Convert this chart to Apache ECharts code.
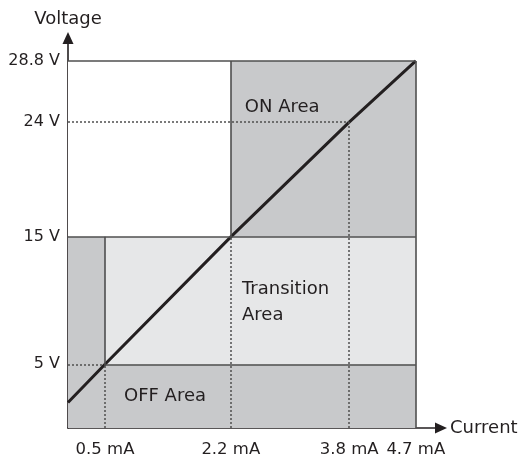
<!DOCTYPE html>
<html lang="en">
<head>
    <meta charset="UTF-8">
    <script src="https://cdn.jsdelivr.net/npm/echarts@6/dist/echarts.min.js"></script>
    <title>Voltage / Current</title>
    <style type="text/css">
        html, body { margin: 0; padding: 0; background: #fff; }
        #chart { width: 523px; height: 459px; }
    </style>
</head>
<body>
<div id="chart"></div>
<script type="text/javascript">
    // tick values and their labels
    const currentTicks = [0.5, 2.2, 3.8, 4.7];
    const currentLabels = ['0.5 mA', '2.2 mA', '3.8 mA', '4.7 mA'];
    const voltageTicks = [5, 15, 24, 28.8];
    const voltageLabels = ['5 V', '15 V', '24 V', '28.8 V'];

    // the characteristic line
    const lineCurrent = [0, 0.5, 2.2, 3.8, 4.7];
    const lineVoltage = [2, 5, 15, 24, 28.8];

    // thresholds
    const offCurrent = 0.5, onCurrent = 2.2, refCurrent = 3.8, maxCurrent = 4.7;
    const offVoltage = 5, onVoltage = 15, refVoltage = 24, maxVoltage = 28.8;

    const FONT = '"DejaVu Sans", Verdana, sans-serif';
    const DARK = '#c8c9cb', LIGHT = '#e6e7e8', EDGE = '#4f4f4f';

    const myChart = echarts.init(document.getElementById('chart'));

    function box(x1, y1, x2, y2, color, label) {
        const item = [
            {coord: [x1, y1], itemStyle: {color: color}},
            {coord: [x2, y2]}
        ];
        if (label) item[0].label = label;
        return item;
    }

    function seg(x1, y1, x2, y2, dotted) {
        return [
            {coord: [x1, y1], lineStyle: {type: dotted ? [2, 2] : 'solid', width: dotted ? 1.5 : 1.6, color: EDGE}},
            {coord: [x2, y2]}
        ];
    }

    const labelStyle = {show: true, color: '#231f20', fontFamily: FONT, fontSize: 18};

    const areas = [
        box(0, 0, offCurrent, onVoltage, DARK),
        box(offCurrent, 0, maxCurrent, offVoltage, DARK,
            Object.assign({}, labelStyle, {position: 'insideLeft', distance: 19, formatter: 'OFF Area'})),
        box(offCurrent, offVoltage, maxCurrent, onVoltage, LIGHT,
            Object.assign({}, labelStyle, {position: [137, 40], lineHeight: 26, formatter: 'Transition\nArea'})),
        box(onCurrent, onVoltage, maxCurrent, maxVoltage, DARK,
            Object.assign({}, labelStyle, {position: [14, 37], formatter: 'ON Area'})),
        box(0, onVoltage, onCurrent, maxVoltage, '#ffffff')
    ];

    const lines = [
        seg(0, maxVoltage, maxCurrent, maxVoltage),
        seg(maxCurrent, 0, maxCurrent, maxVoltage),
        seg(0, onVoltage, maxCurrent, onVoltage),
        seg(offCurrent, offVoltage, maxCurrent, offVoltage),
        seg(0, offVoltage, offCurrent, offVoltage, true),
        seg(offCurrent, offVoltage, offCurrent, onVoltage),
        seg(offCurrent, 0, offCurrent, offVoltage, true),
        seg(onCurrent, onVoltage, onCurrent, maxVoltage),
        seg(onCurrent, 0, onCurrent, onVoltage, true),
        seg(refCurrent, 0, refCurrent, refVoltage, true),
        seg(0, refVoltage, refCurrent, refVoltage, true)
    ];

    const axisCommon = {
        type: 'value',
        min: 0,
        splitLine: {show: false},
        axisTick: {show: false},
        nameTextStyle: {color: '#231f20', fontFamily: FONT, fontSize: 18},
        axisLine: {
            show: true,
            onZero: false,
            symbol: ['none', 'triangle'],
            symbolSize: [11, 12],
            lineStyle: {color: '#231f20', width: 1.6}
        }
    };

    const option = {
        animation: false,
        grid: {left: 68, right: 85, top: 38, bottom: 31},
        xAxis: Object.assign({}, axisCommon, {
            max: 5.0,
            name: 'Current',
            nameLocation: 'end',
            nameGap: 12,
            axisLine: Object.assign({}, axisCommon.axisLine, {symbolOffset: [0, 3]}),
            axisLabel: {
                customValues: currentTicks,
                formatter: function (v) { return currentLabels[currentTicks.indexOf(v)]; },
                margin: 13, color: '#231f20', fontFamily: FONT, fontSize: 16.5
            }
        }),
        yAxis: Object.assign({}, axisCommon, {
            max: 30.6,
            name: 'Voltage',
            nameLocation: 'end',
            nameGap: 10,
            axisLine: Object.assign({}, axisCommon.axisLine, {symbolOffset: [0, 0]}),
            axisLabel: {
                customValues: voltageTicks,
                formatter: function (v) { return voltageLabels[voltageTicks.indexOf(v)]; },
                margin: 8, color: '#231f20', fontFamily: FONT, fontSize: 16
            }
        }),
        series: [
            {
                type: 'line', data: [], z: 1, silent: true,
                markArea: {silent: true, data: areas}
            },
            {
                type: 'line', data: [], z: 2, silent: true,
                markLine: {silent: true, symbol: 'none', label: {show: false}, data: lines}
            },
            {
                type: 'line', z: 3, silent: true,
                symbol: 'none',
                lineStyle: {color: '#231f20', width: 3},
                data: lineCurrent.map(function (c, i) { return [c, lineVoltage[i]]; })
            }
        ]
    };

    myChart.setOption(option);
</script>
</body>
</html>
